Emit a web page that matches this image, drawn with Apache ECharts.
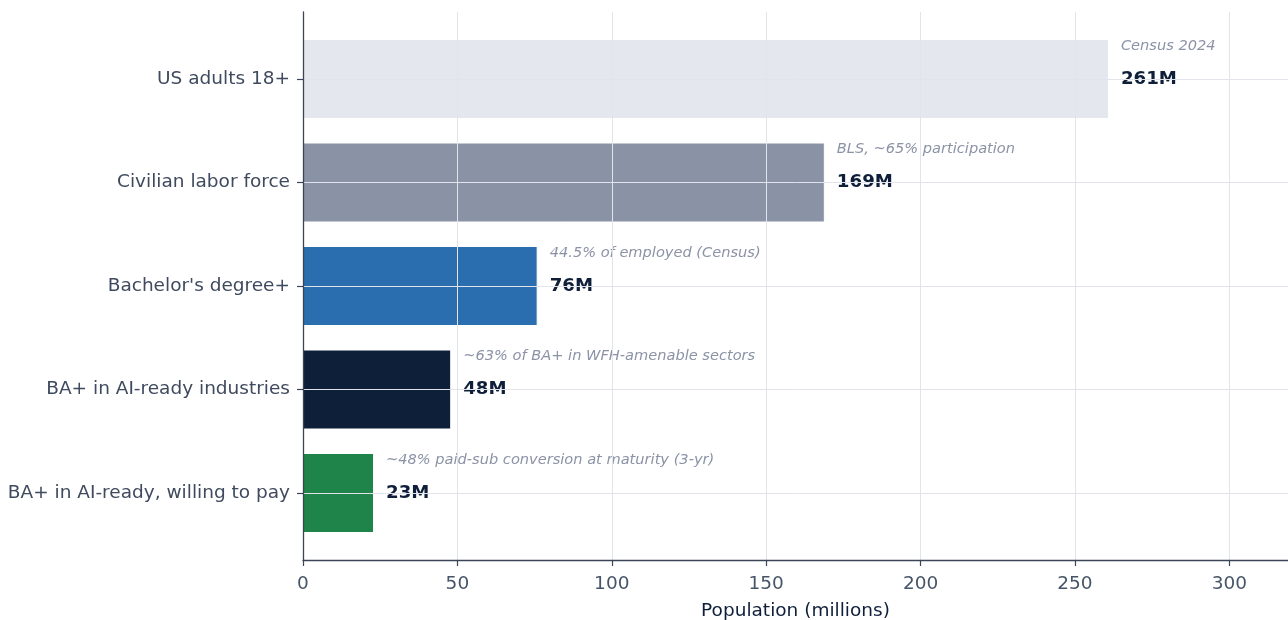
<!DOCTYPE html>
<html>
<head>
<meta charset="utf-8">
<script src="https://cdn.jsdelivr.net/npm/echarts@6/dist/echarts.min.js"></script>
<style>
html,body{margin:0;padding:0;background:#fff;}
#chart{width:1288px;height:620px;}
</style>
</head>
<body>
<div id="chart"></div>
<script>
const categories = ["US adults 18+", "Civilian labor force", "Bachelor's degree+", "BA+ in AI-ready industries", "BA+ in AI-ready, willing to pay"];
const values = [261, 169, 76, 48, 23];
const notes = ["Census 2024", "BLS, ~65% participation", "44.5% of employed (Census)", "~63% of BA+ in WFH-amenable sectors", "~48% paid-sub conversion at maturity (3-yr)"];
const xTicks = [0, 50, 100, 150, 200, 250, 300];
const palette = ['#e4e7ee', '#8a93a6', '#2b6eb0', '#0e1f3a', '#1f844a'];

const FONT = 'DejaVu Sans';
const AXIS = '#3b4556';
const GRIDC = '#e2e4ec';
const XMAX = 319;

const chart = echarts.init(document.getElementById('chart'), null, {renderer: 'canvas'});
chart.setOption({
  animation: false,
  backgroundColor: '#ffffff',
  textStyle: {fontFamily: FONT},
  grid: [
    {left: 303, right: 0, top: 12, bottom: 60, containLabel: false, outerBoundsMode: 'none'},
    {left: 303, right: 0, top: 27.25, bottom: 75.25, containLabel: false, outerBoundsMode: 'none'}
  ],
  xAxis: [
    {
      gridIndex: 0, type: 'value', min: xTicks[0], max: XMAX, interval: 50, z: 5,
      axisLine: {show: true, lineStyle: {color: AXIS, width: 1.3}},
      axisTick: {show: true, length: 6, lineStyle: {color: AXIS, width: 1.2}},
      axisLabel: {fontFamily: FONT, fontSize: 18.5, color: '#475569', margin: 14.5, showMaxLabel: false},
      splitLine: {show: true, lineStyle: {color: GRIDC, width: 1}},
      name: 'Population (millions)', nameLocation: 'middle', nameGap: 42,
      nameTextStyle: {fontFamily: FONT, fontSize: 18.5, color: '#0f1f3a'}
    },
    {gridIndex: 1, type: 'value', min: 0, max: XMAX, show: false}
  ],
  yAxis: [
    {
      gridIndex: 0, type: 'value', min: 0, max: 1, z: 7,
      axisLine: {show: true, lineStyle: {color: AXIS, width: 1.3}},
      axisTick: {show: false}, axisLabel: {show: false}, splitLine: {show: false}
    },
    {
      gridIndex: 1, type: 'category', data: categories, inverse: true, z: 7,
      axisLine: {show: false},
      axisTick: {show: true, alignWithLabel: true, length: 6, lineStyle: {color: AXIS, width: 1.2}},
      axisLabel: {fontFamily: FONT, fontSize: 18.5, color: '#3f4a5e', margin: 13, padding: [7, 0, 0, 0]},
      splitLine: {show: false}
    }
  ],
  series: [{
    type: 'bar',
    xAxisIndex: 1, yAxisIndex: 1,
    barWidth: 80,
    data: values.map((v, i) => ({value: v, itemStyle: {color: palette[i]}})),
    itemStyle: {borderColor: '#ffffff', borderWidth: 1},
    label: {
      show: true, position: 'right', distance: 12,
      formatter: p => '{n|' + notes[p.dataIndex] + '}\n{v|' + Math.round(p.value) + 'M}\n{e| }',
      rich: {
        n: {fontFamily: FONT, fontStyle: 'italic', fontSize: 14.6, color: '#8b93a6', lineHeight: 33},
        v: {fontFamily: FONT, fontWeight: 'bold', fontSize: 18.2, color: '#0f1f3a', lineHeight: 33},
        e: {fontSize: 10, lineHeight: 33}
      }
    },
    markLine: {
      silent: true, symbol: 'none', animation: false,
      label: {show: false},
      lineStyle: {color: GRIDC, width: 1, type: 'solid'},
      data: categories.map(c => ({yAxis: c}))
    }
  }]
});
</script>
</body>
</html>
